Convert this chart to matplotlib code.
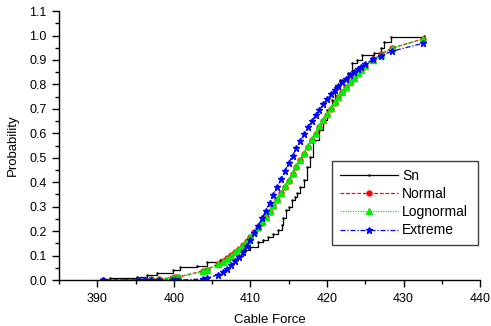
import matplotlib
matplotlib.use("Agg")
import matplotlib.pyplot as plt

sn_x = [390.7, 391.7, 395.2, 396.5, 397.8, 399.9, 400.8, 403.0, 404.3, 406.0,
        407.4, 408.2, 409.0, 410.0, 411.0, 411.7, 412.3, 413.0, 413.6, 414.1,
        414.3, 414.7, 415.0, 415.4, 415.8, 416.1, 416.5, 417.0, 417.4, 417.8,
        418.2, 418.9, 419.5, 420.0, 420.6, 421.1, 421.7, 422.8, 423.3, 423.9,
        424.6, 426.1, 427.0, 427.4, 428.3, 432.6]
sn_y = [0.004, 0.010, 0.014, 0.020, 0.027, 0.041, 0.055, 0.057, 0.075, 0.080,
        0.086, 0.100, 0.123, 0.136, 0.157, 0.165, 0.177, 0.190, 0.204, 0.225,
        0.255, 0.286, 0.300, 0.327, 0.340, 0.355, 0.380, 0.409, 0.463, 0.504,
        0.573, 0.613, 0.654, 0.695, 0.736, 0.790, 0.820, 0.845, 0.886, 0.900,
        0.920, 0.927, 0.948, 0.975, 0.995, 1.000]

# cable force samples where the fitted curves are marked
force = [390.8, 395.5, 396.3, 397.0, 398.1, 399.7, 400.2, 400.6, 403.8, 404.3,
         405.8, 406.4, 407.0, 407.5, 408.0, 408.5, 409.0, 409.5, 410.0, 410.5,
         411.0, 411.5, 412.0, 412.5, 413.0, 413.5, 414.0, 414.5, 415.0, 415.5,
         416.0, 416.5, 417.0, 417.5, 418.0, 418.5, 419.0, 419.5, 420.0, 420.5,
         421.0, 421.5, 422.0, 422.5, 423.0, 423.5, 424.0, 424.5, 425.0, 426.0,
         427.0, 428.5, 432.5]

normal = [0.000, 0.002, 0.002, 0.003, 0.005, 0.009, 0.011, 0.013, 0.037, 0.043,
          0.065, 0.076, 0.089, 0.101, 0.114, 0.127, 0.143, 0.159, 0.176, 0.195,
          0.214, 0.235, 0.257, 0.280, 0.304, 0.328, 0.354, 0.380, 0.407, 0.434,
          0.461, 0.489, 0.517, 0.544, 0.572, 0.599, 0.625, 0.651, 0.677, 0.701,
          0.725, 0.748, 0.769, 0.790, 0.809, 0.827, 0.845, 0.861, 0.876, 0.902,
          0.924, 0.949, 0.986]

lognormal = [0.000, 0.001, 0.002, 0.003, 0.004, 0.008, 0.010, 0.012, 0.035, 0.041,
             0.064, 0.075, 0.088, 0.099, 0.113, 0.127, 0.142, 0.159, 0.176, 0.195,
             0.215, 0.236, 0.258, 0.282, 0.306, 0.331, 0.357, 0.383, 0.410, 0.437,
             0.465, 0.492, 0.520, 0.548, 0.575, 0.602, 0.628, 0.654, 0.679, 0.703,
             0.727, 0.749, 0.770, 0.791, 0.810, 0.828, 0.845, 0.860, 0.875, 0.901,
             0.922, 0.948, 0.985]

extreme = [0.000, 0.000, 0.000, 0.000, 0.000, 0.000, 0.000, 0.000, 0.004, 0.007,
           0.022, 0.032, 0.046, 0.060, 0.076, 0.095, 0.116, 0.139, 0.165, 0.192,
           0.221, 0.252, 0.283, 0.315, 0.348, 0.381, 0.414, 0.446, 0.478, 0.509,
           0.539, 0.568, 0.597, 0.624, 0.649, 0.674, 0.697, 0.718, 0.739, 0.759,
           0.777, 0.794, 0.810, 0.824, 0.838, 0.851, 0.862, 0.873, 0.884, 0.902,
           0.917, 0.936, 0.968]

plt.rcParams['font.family'] = ['Liberation Sans', 'DejaVu Sans']

fig = plt.figure(figsize=(4.91, 3.26), dpi=100)
ax = fig.add_axes([0.120, 0.141, 0.858, 0.825])

ax.plot(sn_x, sn_y, color='black', lw=0.9, drawstyle='steps-post',
        marker='.', markersize=1.5, label='Sn')
ax.plot(force, normal, color='red', lw=0.9, ls=(0, (3, 1.5)), marker='o',
        markersize=3.5, label='Normal')
ax.plot(force, lognormal, color='#00ee00', lw=0.9, ls=(0, (1, 1)), marker='^',
        markersize=4.5, label='Lognormal')
ax.plot(force, extreme, color='blue', lw=0.9, ls=(0, (4, 1.5, 1, 1.5)),
        marker='*', markersize=5, label='Extreme')

ax.set_xlim(385, 440)
ax.set_ylim(0, 1.1)
ax.set_xticks([390, 400, 410, 420, 430, 440])
ax.set_xticks(range(385, 441, 5), minor=True)
ax.set_yticks([i / 10 for i in range(12)])
ax.set_yticks([i / 20 for i in range(23)], minor=True)
ax.set_yticklabels(['%.1f' % (i / 10) for i in range(12)])

for s in ['top', 'right']:
    ax.spines[s].set_visible(False)
ax.spines['left'].set_linewidth(1.0)
ax.spines['bottom'].set_linewidth(1.0)
ax.tick_params(which='major', direction='out', length=5, width=1, labelsize=9,
               pad=4)
ax.tick_params(which='minor', direction='out', length=3, width=1)

ax.set_xlabel('Cable Force', fontsize=9.5, labelpad=7)
ax.set_ylabel('Probability', fontsize=9.5, labelpad=7)

leg = ax.legend(loc='lower left', bbox_to_anchor=(0.648, 0.13, 0.347, 0.305),
                mode='expand', fontsize=10, handlelength=4.2, fancybox=False,
                framealpha=1, edgecolor='#404040', borderpad=0.55,
                labelspacing=0.3, handletextpad=0.3, borderaxespad=0)
leg.get_frame().set_linewidth(1.0)

fig.savefig('out.png', dpi=100)
